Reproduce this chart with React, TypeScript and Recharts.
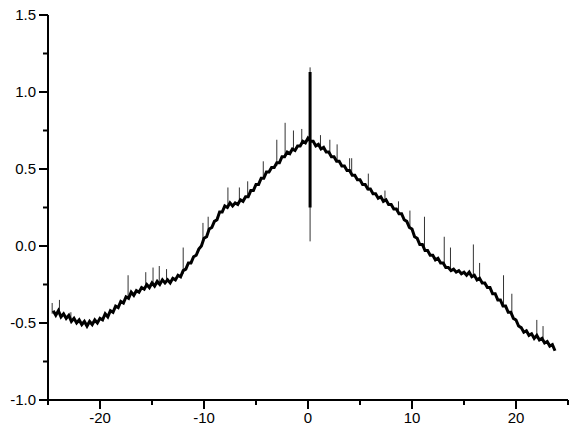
import { LineChart, Line, XAxis, YAxis } from "recharts";

const curveX = [
  -24.5, -24.25, -24, -23.75, -23.5, -23.25, -23, -22.75, -22.5, -22.25, -22, -21.75, -21.5, -21.25,
  -21, -20.75, -20.5, -20.25, -20, -19.75, -19.5, -19.25, -19, -18.75, -18.5, -18.25, -18, -17.75,
  -17.5, -17.25, -17, -16.75, -16.5, -16.25, -16, -15.75, -15.5, -15.25, -15, -14.75, -14.5, -14.25,
  -14, -13.75, -13.5, -13.25, -13, -12.75, -12.5, -12.25, -12, -11.75, -11.5, -11.25, -11, -10.75,
  -10.5, -10.25, -10, -9.75, -9.5, -9.25, -9, -8.75, -8.5, -8.25, -8, -7.75, -7.5, -7.25, -7, -6.75,
  -6.5, -6.25, -6, -5.75, -5.5, -5.25, -5, -4.75, -4.5, -4.25, -4, -3.75, -3.5, -3.25, -3, -2.75,
  -2.5, -2.25, -2, -1.75, -1.5, -1.25, -1, -0.75, -0.5, -0.25, 0, 0.25, 0.5, 0.75, 1, 1.25, 1.5, 1.75,
  2, 2.25, 2.5, 2.75, 3, 3.25, 3.5, 3.75, 4, 4.25, 4.5, 4.75, 5, 5.25, 5.5, 5.75, 6, 6.25, 6.5, 6.75,
  7, 7.25, 7.5, 7.75, 8, 8.25, 8.5, 8.75, 9, 9.25, 9.5, 9.75, 10, 10.25, 10.5, 10.75, 11, 11.25,
  11.5, 11.75, 12, 12.25, 12.5, 12.75, 13, 13.25, 13.5, 13.75, 14, 14.25, 14.5, 14.75, 15, 15.25,
  15.5, 15.75, 16, 16.25, 16.5, 16.75, 17, 17.25, 17.5, 17.75, 18, 18.25, 18.5, 18.75, 19, 19.25,
  19.5, 19.75, 20, 20.25, 20.5, 20.75, 21, 21.25, 21.5, 21.75, 22, 22.25, 22.5, 22.75, 23, 23.25,
  23.5, 23.75,
];
const curveY = [
  -0.42, -0.45, -0.42, -0.46, -0.44, -0.47, -0.45, -0.49, -0.47, -0.5, -0.48, -0.51, -0.49, -0.52,
  -0.49, -0.51, -0.48, -0.5, -0.47, -0.48, -0.44, -0.46, -0.42, -0.43, -0.39, -0.4, -0.36, -0.37,
  -0.33, -0.34, -0.3, -0.32, -0.29, -0.3, -0.27, -0.28, -0.25, -0.27, -0.24, -0.26, -0.23, -0.25,
  -0.22, -0.24, -0.22, -0.24, -0.21, -0.22, -0.19, -0.2, -0.16, -0.15, -0.11, -0.11, -0.07, -0.06,
  -0.02, 0.0, 0.05, 0.06, 0.11, 0.12, 0.16, 0.17, 0.22, 0.22, 0.26, 0.25, 0.28, 0.26, 0.28, 0.27,
  0.3, 0.29, 0.32, 0.32, 0.36, 0.36, 0.4, 0.4, 0.44, 0.44, 0.48, 0.48, 0.51, 0.51, 0.54, 0.54, 0.58,
  0.58, 0.61, 0.6, 0.63, 0.62, 0.65, 0.65, 0.68, 0.67, 0.7, 0.68, 0.68, 0.65, 0.66, 0.63, 0.64, 0.61,
  0.61, 0.58, 0.58, 0.55, 0.55, 0.52, 0.52, 0.49, 0.49, 0.46, 0.46, 0.43, 0.43, 0.4, 0.4, 0.37, 0.37,
  0.34, 0.34, 0.31, 0.32, 0.29, 0.3, 0.27, 0.27, 0.24, 0.24, 0.21, 0.21, 0.17, 0.16, 0.12, 0.11, 0.06,
  0.05, 0.01, 0.01, -0.03, -0.03, -0.06, -0.06, -0.09, -0.08, -0.11, -0.11, -0.14, -0.14, -0.16,
  -0.15, -0.17, -0.16, -0.18, -0.17, -0.19, -0.17, -0.2, -0.19, -0.22, -0.21, -0.24, -0.24, -0.27,
  -0.27, -0.31, -0.31, -0.35, -0.35, -0.39, -0.39, -0.43, -0.43, -0.47, -0.48, -0.52, -0.53, -0.56,
  -0.55, -0.58, -0.57, -0.6, -0.58, -0.61, -0.6, -0.63, -0.62, -0.65, -0.64, -0.68,
];

// thin spikes: position, foot, tip
const spikeX = [
  -24.6, -23.9, -22.8, -17.3, -15.6, -14.9, -14.3, -13.6, -12, -10.1, -9.6, -7.7, -6.6, -5.8, -4.3,
  -3, -2.2, -1.4, -0.6, 0.2, 1.2, 2.1, 2.8, 4, 4.2, 5.8, 7.4, 8.7, 9.8, 11.2, 13.1, 13.7, 15.9, 16.5,
  18.8, 19.6, 22, 22.6,
];
const spikeFoot = [
  -0.44, -0.44, -0.47, -0.33, -0.26, -0.25, -0.24, -0.23, -0.18, 0.03, 0.1, 0.26, 0.29, 0.33, 0.45,
  0.52, 0.59, 0.62, 0.66, 0.03, 0.64, 0.6, 0.55, 0.48, 0.47, 0.36, 0.29, 0.23, 0.11, -0.02, -0.13,
  -0.15, -0.19, -0.21, -0.38, -0.44, -0.6, -0.6,
];
const spikeTip = [
  -0.37, -0.35, -0.43, -0.19, -0.17, -0.14, -0.13, -0.15, -0.01, 0.15, 0.19, 0.38, 0.38, 0.42, 0.55,
  0.69, 0.8, 0.75, 0.76, 1.16, 0.72, 0.69, 0.66, 0.57, 0.57, 0.47, 0.36, 0.29, 0.23, 0.19, 0.06,
  -0.01, 0.01, -0.11, -0.19, -0.31, -0.48, -0.52,
];

// the heavy part of the central spike
const centerX = 0.2;
const centerLow = 0.25;
const centerHigh = 1.13;

const xTicks = [-25, -20, -15, -10, -5, 0, 5, 10, 15, 20, 25];
const xLabels = [-20, -10, 0, 10, 20];
const yTicks = [-1, -0.75, -0.5, -0.25, 0, 0.25, 0.5, 0.75, 1, 1.25, 1.5];
const yLabels = [-1, -0.5, 0, 0.5, 1, 1.5];

const curve = curveX.map((x, i) => ({ x, y: curveY[i] }));
const spikes = spikeX.flatMap((x, i) => [
  { x, y: spikeFoot[i] },
  { x, y: spikeTip[i] },
  { x: x + 0.001, y: null },
]);
const center = [
  { x: centerX, y: centerLow },
  { x: centerX, y: centerHigh },
];

const FONT = "'Liberation Sans', Arial, sans-serif";

function XTick(props: any) {
  const { x, y, payload } = props;
  const major = xLabels.includes(payload.value);
  return (
    <g>
      <line x1={x} x2={x} y1={y} y2={y + (major ? 9 : 5)} stroke="#000" strokeWidth={2} />
      {major && (
        <text x={x} y={y + 23} textAnchor="middle" fontSize={15} fontFamily={FONT} fill="#000">
          {payload.value}
        </text>
      )}
    </g>
  );
}

function YTick(props: any) {
  const { x, y, payload } = props;
  const major = yLabels.includes(payload.value);
  return (
    <g>
      <line x1={x} x2={x - (major ? 9 : 5)} y1={y} y2={y} stroke="#000" strokeWidth={2} />
      {major && (
        <text x={x - 12} y={y + 5} textAnchor="end" fontSize={15} fontFamily={FONT} fill="#000">
          {payload.value.toFixed(1)}
        </text>
      )}
    </g>
  );
}

export default function App() {
  return (
    <div style={{ position: "absolute", left: 0, top: 0, width: 569, height: 428, background: "#fff" }}>
      <LineChart width={569} height={428} margin={{ top: 15, right: 1, left: 0, bottom: 0 }}>
        <XAxis
          dataKey="x"
          type="number"
          domain={[-25, 25]}
          ticks={xTicks}
          allowDataOverflow
          height={28}
          tickSize={0}
          tickMargin={0}
          tickLine={false}
          axisLine={{ stroke: "#000", strokeWidth: 2 }}
          tick={<XTick />}
          interval={0}
        />
        <YAxis
          type="number"
          domain={[-1, 1.5]}
          ticks={yTicks}
          allowDataOverflow
          width={48}
          tickSize={0}
          tickMargin={0}
          tickLine={false}
          axisLine={{ stroke: "#000", strokeWidth: 2 }}
          tick={<YTick />}
          interval={0}
        />
        <Line
          data={spikes}
          dataKey="y"
          stroke="#333"
          strokeWidth={1}
          dot={false}
          connectNulls={false}
          isAnimationActive={false}
        />
        <Line data={center} dataKey="y" stroke="#000" strokeWidth={3} dot={false} isAnimationActive={false} />
        <Line
          data={curve}
          dataKey="y"
          stroke="#000"
          strokeWidth={3}
          strokeLinejoin="miter"
          dot={false}
          isAnimationActive={false}
        />
      </LineChart>
    </div>
  );
}
